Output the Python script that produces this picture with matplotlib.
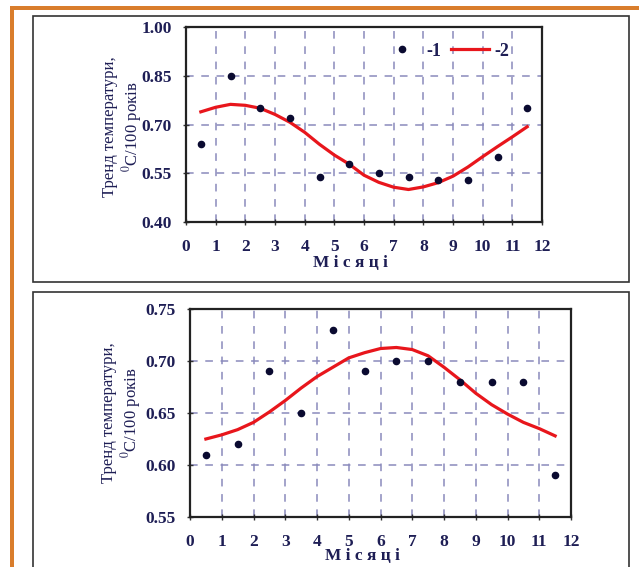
import matplotlib
matplotlib.use("Agg")
import matplotlib.pyplot as plt
from matplotlib.patches import Rectangle
from matplotlib.lines import Line2D

plt.rcParams['font.family'] = ['Liberation Serif', 'DejaVu Serif']
plt.rcParams['mathtext.fontset'] = 'stix'

# ---- data ----
months = [0.5, 1.5, 2.5, 3.5, 4.5, 5.5, 6.5, 7.5, 8.5, 9.5, 10.5, 11.5]
top_points = [0.64, 0.85, 0.75, 0.72, 0.54, 0.58, 0.55, 0.54, 0.53, 0.53, 0.60, 0.75]
bot_points = [0.61, 0.62, 0.69, 0.65, 0.73, 0.69, 0.70, 0.70, 0.68, 0.68, 0.68, 0.59]
# trend curves, every half month
trend_x = [0.5, 1.0, 1.5, 2.0, 2.5, 3.0, 3.5, 4.0, 4.5, 5.0, 5.5, 6.0,
           6.5, 7.0, 7.5, 8.0, 8.5, 9.0, 9.5, 10.0, 10.5, 11.0, 11.5]
top_trend = [0.739, 0.753, 0.762, 0.759, 0.750, 0.731, 0.707, 0.676, 0.639, 0.606, 0.578, 0.544,
             0.522, 0.507, 0.500, 0.508, 0.521, 0.541, 0.569, 0.601, 0.632, 0.662, 0.693]
bot_trend = [0.625, 0.629, 0.634, 0.641, 0.651, 0.662, 0.674, 0.685, 0.694, 0.703, 0.708, 0.712,
             0.713, 0.711, 0.705, 0.694, 0.682, 0.669, 0.658, 0.649, 0.641, 0.635, 0.628]
x_ticks = list(range(0, 13))
top_yticks = [0.40, 0.55, 0.70, 0.85, 1.00]
bot_yticks = [0.55, 0.60, 0.65, 0.70, 0.75]
ylabel = "Тренд температури,\n$^{0}$C/100 років"
xlabel = "М і с я ц і"
legend_labels = ["-1", "-2"]

W, H = 639, 567
fig = plt.figure(figsize=(W / 100, H / 100), dpi=100)

TXT = '#1e1e55'
GRID = '#8a8abc'
RED = '#e8161c'
ORANGE = '#d97d2c'
DOT = '#0a0a30'

def fr(x, y, w, h):
    # pixel rect (top-left origin) -> figure fraction
    return [x / W, 1 - (y + h) / H, w / W, h / H]

# orange frame
fig.add_artist(Rectangle((10 / W, 0), 4 / W, 1 - 6 / H, transform=fig.transFigure,
                         color=ORANGE, lw=0))
fig.add_artist(Rectangle((10 / W, 1 - 10 / H), 1 - 10 / W, 4 / H, transform=fig.transFigure,
                         color=ORANGE, lw=0))
# panel boxes
for (x, y, w, h) in [(33, 16, 596, 266), (33, 292, 596, 290)]:
    b = fr(x, y, w, h)
    fig.add_artist(Rectangle((b[0], b[1]), b[2], b[3], transform=fig.transFigure,
                             fill=False, edgecolor='#333333', lw=1.2))

def style(ax, yticks, yfmt):
    ax.set_xlim(0, 12)
    ax.set_ylim(yticks[0], yticks[-1])
    ax.set_xticks(x_ticks)
    ax.set_yticks(yticks)
    ax.set_yticklabels([yfmt.format(v) for v in yticks])
    ax.grid(True, color=GRID, lw=1.1, linestyle=(0, (5, 5)))
    ax.tick_params(direction='inout', length=4, width=1, colors='#333333',
                   labelcolor=TXT, labelsize=12.5)
    ax.tick_params(axis='x', pad=10)
    ax.tick_params(axis='y', pad=8)
    for t in ax.get_xticklabels() + ax.get_yticklabels():
        t.set_fontweight('bold')
    for s in ax.spines.values():
        s.set_linewidth(1.6)
        s.set_color('#222222')
    ax.set_axisbelow(True)

# top panel
ax1 = fig.add_axes(fr(186, 27, 356, 195))
style(ax1, top_yticks, "{:.2f}")
ax1.scatter(months, top_points, s=20, color=DOT, zorder=3)
ax1.plot(trend_x, top_trend, color=RED, lw=2.3, zorder=2)
ax1.set_xlabel(xlabel, fontsize=12.5, fontweight='bold', color=TXT)
ax1.xaxis.set_label_coords((350 - 186) / 356, -0.168)
leg = ax1.legend([Line2D([], [], marker='o', ls='', color=DOT, markersize=4.5),
                  Line2D([], [], color=RED, lw=2.3)],
                 legend_labels, ncol=2, frameon=False, loc='center',
                 bbox_to_anchor=((446 - 186) / 356, (222 - 51) / 195),
                 handlelength=2.1, handletextpad=0.3, columnspacing=0.55,
                 borderpad=0, borderaxespad=0,
                 prop={'size': 13, 'weight': 'bold'})
for t in leg.get_texts():
    t.set_color(TXT)
fig.text(123 / W, 1 - 127 / H, ylabel, rotation=90, ha='center', va='center',
         multialignment='center', fontsize=12, color=TXT, linespacing=1.15)

# bottom panel
ax2 = fig.add_axes(fr(190, 309, 381, 208))
style(ax2, bot_yticks, "{:.2f}")
ax2.scatter(months, bot_points, s=20, color=DOT, zorder=3)
ax2.plot(trend_x, bot_trend, color=RED, lw=2.3, zorder=2)
ax2.set_xlabel(xlabel, fontsize=12.5, fontweight='bold', color=TXT)
ax2.xaxis.set_label_coords((362 - 190) / 381, -0.15)
fig.text(122 / W, 1 - 413 / H, ylabel, rotation=90, ha='center', va='center',
         multialignment='center', fontsize=12, color=TXT, linespacing=1.15)

fig.savefig("out.png", dpi=100)
